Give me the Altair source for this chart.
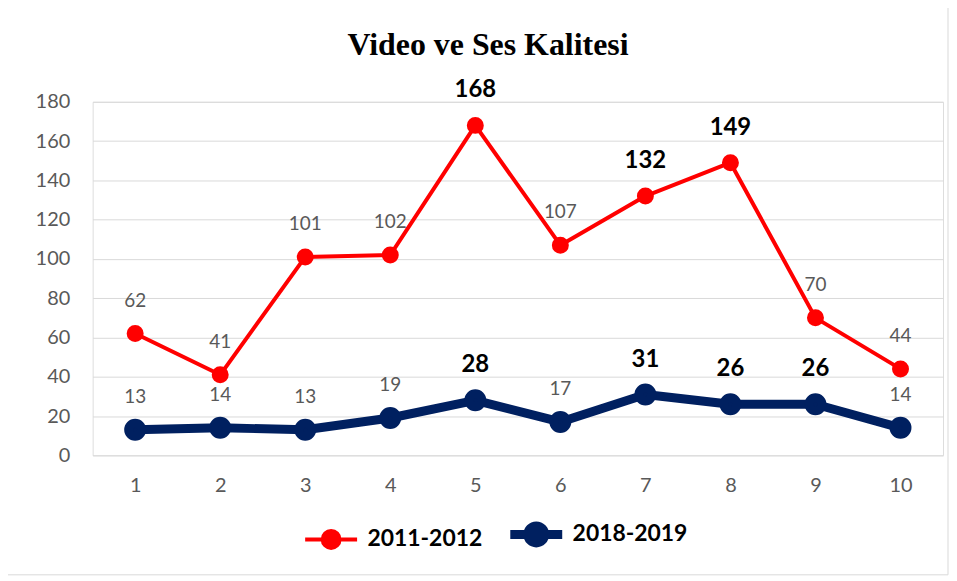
import altair as alt
import pandas as pd

categories = [1, 2, 3, 4, 5, 6, 7, 8, 9, 10]
series_names = ["2011-2012", "2018-2019"]
values_2011 = [62, 41, 101, 102, 168, 107, 132, 149, 70, 44]
values_2018 = [13, 14, 13, 19, 28, 17, 31, 26, 26, 14]
bold_2011 = [0, 0, 0, 0, 1, 0, 1, 1, 0, 0]
bold_2018 = [0, 0, 0, 0, 1, 0, 1, 1, 1, 0]
y_ticks = [0, 20, 40, 60, 80, 100, 120, 140, 160, 180]
colors = ["#FF0000", "#002060"]
widths = [4, 9]

rows = []
for name, vals, bolds in [(series_names[0], values_2011, bold_2011),
                          (series_names[1], values_2018, bold_2018)]:
    for c, v, b in zip(categories, vals, bolds):
        rows.append({"cat": c, "value": v, "series": name, "bold": b})
df = pd.DataFrame(rows)

FONT = "Lato"
W, H = 854, 355
PT_SIZE = 170

legend = alt.Legend(
    title=None, orient="none", direction="horizontal",
    legendX=228, legendY=423, padding=0,
    symbolType="M-4,0H4M1.3,0A1.3,1.3,0,1,1,-1.3,0A1.3,1.3,0,1,1,1.3,0",
    symbolSize=PT_SIZE, symbolStrokeWidth=5, labelOffset=25, columnPadding=9,
    labelFont=FONT, labelFontSize=23, labelFontWeight="bold", labelColor="#000000",
)

stroke_scale = alt.Scale(domain=series_names, range=colors)
width_scale = alt.Scale(domain=series_names, range=widths)

x_enc = alt.X("cat:O", title=None, scale=alt.Scale(paddingInner=0, paddingOuter=0, align=0.5),
              axis=alt.Axis(labelAngle=0, ticks=False, domain=False, labelPadding=20,
                            labelFont=FONT, labelFontSize=20, labelColor="#595959"))
y_enc = alt.Y("value:Q", title=None, scale=alt.Scale(domain=[0, 180], nice=False),
              axis=alt.Axis(values=y_ticks, ticks=False, domain=False, labelPadding=23,
                            grid=True, gridColor="#D9D9D9", gridWidth=1,
                            labelFont=FONT, labelFontSize=20, labelColor="#595959"))

base = alt.Chart(df)

border = alt.Chart(pd.DataFrame({"a": [0]})).mark_rect(
    fillOpacity=0, stroke="#D9D9D9", strokeWidth=1
).encode(x=alt.value(-89), x2=alt.value(859), y=alt.value(-98), y2=alt.value(475))

lines = base.mark_line(strokeJoin="round", strokeCap="round").encode(
    x=x_enc, y=y_enc,
    stroke=alt.Stroke("series:N", scale=stroke_scale, legend=legend),
    strokeWidth=alt.StrokeWidth("series:O", scale=width_scale, legend=None),
)

points = base.mark_point(filled=True, size=PT_SIZE, opacity=1).encode(
    x=x_enc, y=y_enc,
    fill=alt.Fill("series:N", scale=stroke_scale, legend=legend),
    stroke=alt.Stroke("series:N", scale=stroke_scale, legend=legend),
    strokeWidth=alt.StrokeWidth("series:O", scale=width_scale, legend=None),
)

labels_reg = base.transform_filter(alt.datum.bold == 0).mark_text(
    font=FONT, fontSize=19, color="#595959", dy=-33, baseline="middle"
).encode(x=x_enc, y=y_enc, text="value:Q")

labels_bold = base.transform_filter(alt.datum.bold == 1).mark_text(
    font=FONT, fontSize=24, fontWeight="bold", color="#000000", dy=-35, baseline="middle"
).encode(x=x_enc, y=y_enc, text="value:Q")

chart = alt.layer(border, lines, points, labels_reg, labels_bold).properties(
    width=W, height=H,
    title=alt.TitleParams("Video ve Ses Kalitesi", font="Liberation Serif", fontSize=32,
                          fontWeight="bold", color="#000000", anchor="middle", frame="group",
                          baseline="alphabetic", offset=0, dy=83, dx=-30),
    autosize=alt.AutoSizeParams(type="none"),
    padding={"left": 85, "top": 93, "right": 6, "bottom": 122},
).configure_view(stroke=None).configure(background="white")

chart.save("out.html", embed_options={"renderer": "svg", "actions": False})
